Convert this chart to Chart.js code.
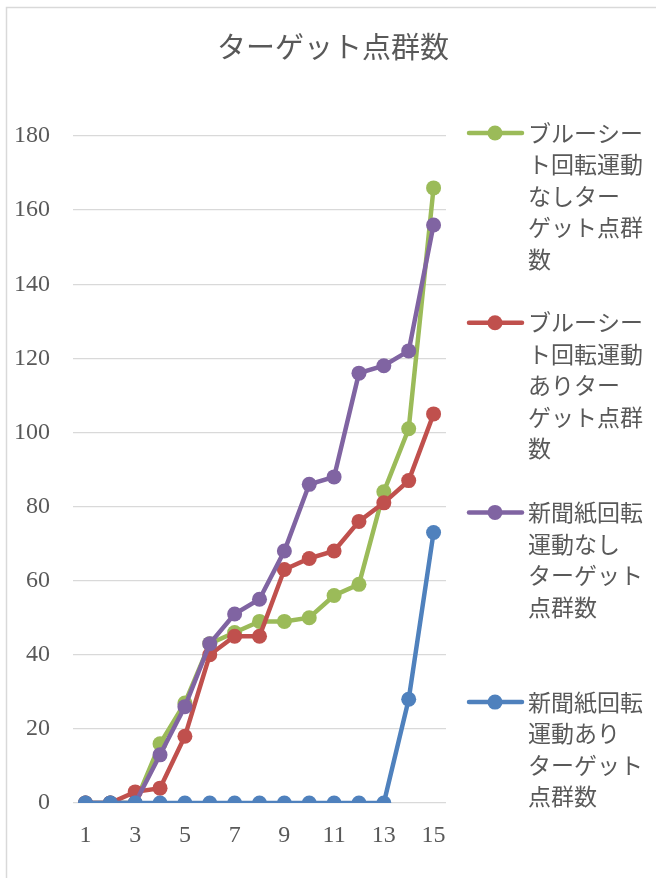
<!DOCTYPE html>
<html lang="ja">
<head>
<meta charset="utf-8">
<title>ターゲット点群数</title>
<script src="https://cdn.jsdelivr.net/npm/chart.js@4/dist/chart.umd.min.js"></script>
<style>
    html, body { margin: 0; padding: 0; background: #fff; }
    #wrap { position: relative; width: 656px; height: 878px; }
</style>
</head>
<body>
<div id="wrap"><canvas id="pointChart" width="656" height="878"></canvas></div>
<script>
// Frame numbers on the x axis
const frames = ["1", "2", "3", "4", "5", "6", "7", "8", "9", "10", "11", "12", "13", "14", "15"];

// Point counts per condition
const blueSheetNoRotation = [0, 0, 0, 16, 27, 43, 46, 49, 49, 50, 56, 59, 84, 101, 166];
const blueSheetRotation = [0, 0, 3, 4, 18, 40, 45, 45, 63, 66, 68, 76, 81, 87, 105];
const newspaperNoRotation = [0, 0, 0, 13, 26, 43, 51, 55, 68, 86, 88, 116, 118, 122, 156];
const newspaperRotation = [0, 0, 0, 0, 0, 0, 0, 0, 0, 0, 0, 0, 0, 28, 73];

// Legend names, already broken into lines
const seriesNames = [
    ["ブルーシー", "ト回転運動", "なしター", "ゲット点群", "数"],
    ["ブルーシー", "ト回転運動", "ありター", "ゲット点群", "数"],
    ["新聞紙回転", "運動なし", "ターゲット", "点群数"],
    ["新聞紙回転", "運動あり", "ターゲット", "点群数"]
];
const seriesColors = ["#9BBB59", "#C0504D", "#8064A2", "#4F81BD"];
const chartTitle = "ターゲット点群数";

// y axis ticks
const yMin = 0;
const yMax = 180;
const yStep = 20;

const textColor = "#595959";
const jpFont = "'Noto Sans CJK JP', 'Noto Sans CJK SC', sans-serif";
const numFont = "'Liberation Serif', 'DejaVu Serif', serif";

const seriesValues = [blueSheetNoRotation, blueSheetRotation, newspaperNoRotation, newspaperRotation];

// Later series sit on top of earlier ones
const datasets = seriesValues.map((values, i) => ({
    label: seriesNames[i].join(""),
    data: values,
    borderColor: seriesColors[i],
    backgroundColor: seriesColors[i],
    borderWidth: 4.5,
    pointRadius: 7.5,
    pointHoverRadius: 7.5,
    pointBorderWidth: 0,
    tension: 0,
    order: seriesValues.length - 1 - i
}));

// Outer frame, title and the right-hand legend
const frameAndLegend = {
    id: "frameAndLegend",
    beforeDraw(chart) {
        const ctx = chart.ctx;
        ctx.save();
        ctx.strokeStyle = "#d9d9d9";
        ctx.lineWidth = 1.5;
        ctx.strokeRect(6.5, 7.5, 800, 1000);

        ctx.fillStyle = textColor;
        ctx.font = "29px " + jpFont;
        ctx.textAlign = "center";
        ctx.textBaseline = "middle";
        ctx.fillText(chartTitle, 333, 47);
        ctx.restore();
    },
    afterDraw(chart) {
        const ctx = chart.ctx;
        const top = 133;
        const gap = 189.7;
        const lineH = 31.5;
        ctx.save();
        seriesNames.forEach((lines, i) => {
            const y = top + i * gap;
            const color = seriesColors[i];
            ctx.strokeStyle = color;
            ctx.lineWidth = 4.5;
            ctx.lineCap = "round";
            ctx.beginPath();
            ctx.moveTo(469, y);
            ctx.lineTo(522, y);
            ctx.stroke();
            ctx.fillStyle = color;
            ctx.beginPath();
            ctx.arc(495, y, 7.5, 0, Math.PI * 2);
            ctx.fill();

            ctx.fillStyle = textColor;
            ctx.font = "23px " + jpFont;
            ctx.textBaseline = "middle";
            ctx.textAlign = "left";
            lines.forEach((line, k) => {
                ctx.fillText(line, 528, y + k * lineH);
            });
        });
        ctx.restore();
    }
};

new Chart(document.getElementById("pointChart"), {
    type: "line",
    data: {
        labels: frames,
        datasets: datasets
    },
    options: {
        responsive: false,
        animation: false,
        events: [],
        layout: {
            padding: { left: 0, right: 210, top: 136, bottom: 0 }
        },
        plugins: {
            legend: { display: false },
            tooltip: { enabled: false },
            title: { display: false }
        },
        scales: {
            x: {
                offset: true,
                grid: { display: false, drawTicks: false },
                border: { display: false },
                ticks: {
                    autoSkip: false,
                    maxRotation: 0,
                    padding: 18,
                    color: textColor,
                    font: { family: numFont, size: 24 },
                    callback: (value, index) => index % 2 === 0 ? frames[index] : ""
                },
                afterFit: scale => { scale.height = 75; }
            },
            y: {
                min: yMin,
                max: yMax,
                grid: { color: "#d9d9d9", lineWidth: 1.25, drawTicks: false },
                border: { display: false },
                ticks: {
                    stepSize: yStep,
                    padding: 23,
                    color: textColor,
                    font: { family: numFont, size: 24 }
                },
                afterFit: scale => { scale.width = 73; }
            }
        }
    },
    plugins: [frameAndLegend]
});
</script>
</body>
</html>
